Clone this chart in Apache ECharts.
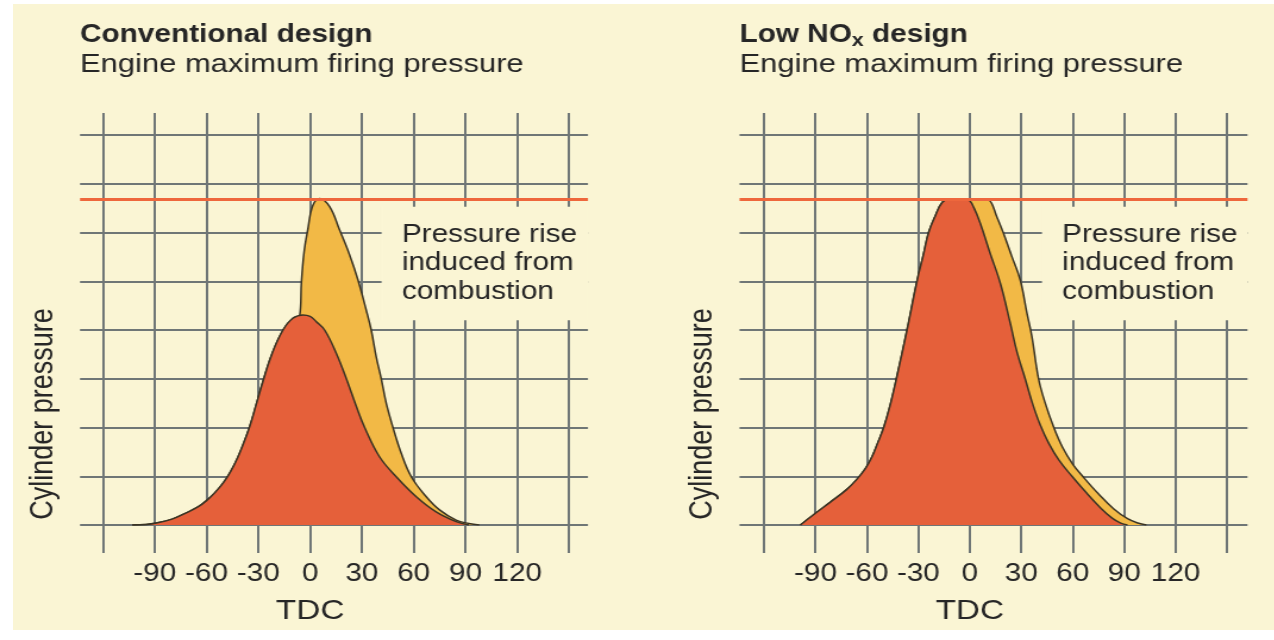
<!DOCTYPE html>
<html>
<head>
<meta charset="utf-8">
<title>Conventional vs Low NOx design</title>
<script src="https://cdn.jsdelivr.net/npm/echarts@6/dist/echarts.min.js"></script>
<style>
	html, body {margin: 0; padding: 0; background: #ffffff; overflow: hidden;}
	#bg {position: absolute; left: 13px; top: 4px; width: 1261px; height: 626px; background: #faf5d4;}
	/* the source picture is a bit wider than it is tall, so the chart is laid out narrow and stretched */
	#chart {position: absolute; left: 0; top: 0; width: 1071px; height: 640px; transform: scaleX(1.19); transform-origin: 0 0;}
</style>
</head>
<body>
<div id="bg"></div>
<div id="chart"></div>
<script>
//	crank angle ticks (deg) and pressure grid (arbitrary units, one unit per grid line)
var angleTicks = [-120, -90, -60, -30, 0, 30, 60, 90, 120, 150];
var pressureMax = 8;
var firingLimit = 6.68;

//	conventional design : motored (compression) curve
var convBaseDeg = [-103, -95, -89, -80, -71.7, -65, -60, -55, -50, -46, -42, -38.5, -35, -31, -27.3, -22, -15.7, -10, -4.2, 0, 3.6, 8.4, 15.2, 21, 26.8, 31.6, 40.2, 49.9, 61.5, 73, 84.6, 92];
var convBaseP   = [0, 0.01, 0.04, 0.12, 0.25, 0.37, 0.5, 0.67, 0.88, 1.1, 1.38, 1.68, 2.02, 2.5, 2.95, 3.52, 4.0, 4.24, 4.31, 4.28, 4.17, 4.0, 3.52, 3.0, 2.43, 2.0, 1.4, 0.99, 0.58, 0.27, 0.07, 0];
//	conventional design : fired curve
var convFiredDeg = [-103, -95, -89, -80, -71.7, -65, -60, -55, -50, -46, -42, -38.5, -35, -31, -27.3, -22, -15.7, -10, -6, -5, -3.5, -1.4, 1.5, 5.5, 11.3, 17.1, 22.9, 27.7, 32.5, 35.4, 38.3, 41.2, 44.1, 48, 52.8, 58.6, 67.3, 75, 84.6, 92, 98];
var convFiredP   = [0, 0.01, 0.04, 0.12, 0.25, 0.37, 0.5, 0.67, 0.88, 1.1, 1.38, 1.68, 2.02, 2.5, 2.95, 3.52, 4.0, 4.24, 4.3, 5.0, 5.6, 6.05, 6.55, 6.7, 6.53, 6.05, 5.54, 5.03, 4.41, 4.0, 3.45, 3.0, 2.5, 2.0, 1.47, 0.99, 0.58, 0.31, 0.1, 0.03, 0];

//	low NOx design : early injection curve
var lowBaseDeg = [-98.8, -90, -81.3, -72, -66, -61, -57, -53.5, -50.2, -46.5, -42.8, -36.6, -30.8, -27, -24, -20, -16, -12, -3, -0.7, 2.5, 6.1, 11.9, 17.8, 23.6, 27.5, 32.3, 36.5, 41.1, 46, 52, 59.6, 68, 76, 83, 88, 92];
var lowBaseP   = [0, 0.24, 0.47, 0.72, 0.93, 1.15, 1.4, 1.7, 2.0, 2.45, 3.0, 4.0, 5.0, 5.55, 6.0, 6.35, 6.62, 6.68, 6.68, 6.67, 6.5, 6.19, 5.57, 4.96, 4.14, 3.55, 3.0, 2.5, 2.05, 1.68, 1.33, 1.0, 0.66, 0.36, 0.14, 0.04, 0];
//	low NOx design : fired curve
var lowFiredDeg = [-98.8, -90, -81.3, -72, -66, -61, -57, -53.5, -50.2, -46.5, -42.8, -36.6, -30.8, -27, -24, -20, -16, -12, -3, -0.7, 8, 11, 15.8, 19.7, 24.6, 29.4, 33.3, 36.2, 40.1, 44, 48.8, 54, 60, 66.3, 75, 84, 92, 98, 103];
var lowFiredP   = [0, 0.24, 0.47, 0.72, 0.93, 1.15, 1.4, 1.7, 2.0, 2.45, 3.0, 4.0, 5.0, 5.55, 6.0, 6.35, 6.62, 6.68, 6.68, 6.67, 6.68, 6.67, 6.32, 5.98, 5.5, 5.03, 4.35, 3.87, 3.0, 2.5, 2.02, 1.6, 1.25, 0.98, 0.64, 0.33, 0.13, 0.04, 0];

var noteText = 'Pressure rise\ninduced from\ncombustion';


var SX = 1.19;
var FONT = '"Liberation Sans", Arial, Helvetica, sans-serif';
var INK = '#262626',
	GRIDLINE = '#6f7676',
	CREAM = '#faf5d4',
	RED = '#e5603a',
	YELLOW = '#f2b946',
	LIMIT = '#ee673c',
	OUTLINE = '#3a3424';

//	panel geometry in picture pixels (x gets divided by SX)
var panels = [
	{aLeft: 103, aRight: 569, bLeft: 80, bRight: 588, titleLeft: 80, noteFrom: 41.4,
		title: 'Conventional design', base: [convBaseDeg, convBaseP], fired: [convFiredDeg, convFiredP]},
	{aLeft: 764, aRight: 1227, bLeft: 739.5, bRight: 1247.5, titleLeft: 739.5, noteFrom: 42.1,
		title: 'Low NO{sub|x} design', base: [lowBaseDeg, lowBaseP], fired: [lowFiredDeg, lowFiredP]}
];

var aTop = 113, aBottom = 553, bTop = 135, bBottom = 525;

drawChart();




/*==========================*\
|=====  Helper functions  ===|
\*==========================*/

function ux(x) {
	return x / SX;
}

function zip(xs, ys) {
	var out = [];
	for(var i=0; i<xs.length; i++) {
		out.push([xs[i], ys[i]]);
	}
	return out;
}

function drawChart() {
	var myChart = echarts.init(document.getElementById('chart'));
	var grid = [], xAxis = [], yAxis = [], series = [], title = [];

	for(var k=0; k<panels.length; k++) {
		var p = panels[k];
		var aW = ux(p.aRight - p.aLeft);
		var perDeg = aW / (angleTicks[angleTicks.length-1] - angleTicks[0]);
		var bMin = angleTicks[0] - ux(p.aLeft - p.bLeft) / perDeg;
		var bMax = angleTicks[angleTicks.length-1] + ux(p.bRight - p.aRight) / perDeg;
		var ga = k*2, gb = k*2 + 1;

		title.push({
			text: p.title,
			subtext: 'Engine maximum firing pressure',
			left: ux(p.titleLeft),
			top: 20,
			itemGap: 0,
			padding: 0,
			textStyle: {
				fontFamily: FONT, fontSize: 25, fontWeight: 'bold', color: INK, lineHeight: 30,
				rich: {
					sub: {fontFamily: FONT, fontSize: 18, fontWeight: 'bold', color: INK, lineHeight: 12, verticalAlign: 'bottom'}
				}
			},
			subtextStyle: {fontFamily: FONT, fontSize: 26, color: INK, lineHeight: 30}
		});

		//	grid a : vertical lines + angle labels
		grid.push({left: ux(p.aLeft), width: aW, top: aTop, height: aBottom - aTop, outerBoundsMode: 'none'});
		//	grid b : horizontal lines + curves
		grid.push({left: ux(p.bLeft), width: ux(p.bRight - p.bLeft), top: bTop, height: bBottom - bTop, outerBoundsMode: 'none'});

		xAxis.push({
			type: 'value',
			gridIndex: ga,
			min: angleTicks[0],
			max: angleTicks[angleTicks.length-1],
			interval: 30,
			axisLine: {show: false},
			axisTick: {show: false},
			splitLine: {show: true, lineStyle: {color: GRIDLINE, width: 2}},
			axisLabel: {
				fontFamily: FONT, fontSize: 25, color: INK, margin: 9,
				formatter: function(v) {
					return (v == angleTicks[0] || v == angleTicks[angleTicks.length-1]) ? '' : String(v);
				}
			},
			name: 'TDC',
			nameLocation: 'middle',
			nameGap: 44,
			//	push the name from the axis middle (15 deg) back to 0 deg
			nameTextStyle: {fontFamily: FONT, fontSize: 28, color: INK, padding: [0, 2*15*perDeg, 0, 0]}
		});
		xAxis.push({type: 'value', gridIndex: gb, min: bMin, max: bMax, show: false, splitLine: {show: false}});

		yAxis.push({type: 'value', gridIndex: ga, min: 0, max: 1, show: false, splitLine: {show: false}});
		yAxis.push({
			type: 'value',
			gridIndex: gb,
			min: 0,
			max: pressureMax,
			interval: 1,
			axisLine: {show: false},
			axisTick: {show: false},
			axisLabel: {show: false},
			splitLine: {show: true, lineStyle: {color: GRIDLINE, width: 2}},
			name: 'Cylinder pressure',
			nameLocation: 'middle',
			nameGap: 17,
			nameTextStyle: {fontFamily: FONT, fontSize: 27, color: INK, padding: [0, 168, 0, 0]}
		});

		series.push({
			type: 'line',
			xAxisIndex: gb, yAxisIndex: gb,
			data: zip(p.fired[0], p.fired[1]),
			smooth: 0.4,
			showSymbol: false,
			silent: true,
			z: 2,
			lineStyle: {color: OUTLINE, width: 1.5},
			areaStyle: {color: YELLOW, opacity: 1}
		});
		series.push({
			type: 'line',
			xAxisIndex: gb, yAxisIndex: gb,
			data: zip(p.base[0], p.base[1]),
			smooth: 0.4,
			showSymbol: false,
			silent: true,
			z: 3,
			lineStyle: {color: OUTLINE, width: 1.5},
			areaStyle: {color: RED, opacity: 1}
		});
		//	firing pressure limit + the note box that blanks the grid behind the text
		series.push({
			type: 'line',
			xAxisIndex: gb, yAxisIndex: gb,
			data: [],
			silent: true,
			z: 5,
			markLine: {
				silent: true,
				symbol: 'none',
				label: {show: false},
				lineStyle: {color: LIMIT, width: 3, type: 'solid'},
				data: [{yAxis: firingLimit}]
			},
			markArea: {
				silent: true,
				itemStyle: {color: CREAM, borderWidth: 0},
				label: {
					show: true,
					position: 'insideTopLeft',
					distance: 0,
					padding: [14, 0, 0, 17],
					fontFamily: FONT, fontSize: 25, lineHeight: 28.5, color: INK,
					formatter: noteText
				},
				data: [[{xAxis: p.noteFrom, yAxis: 4.2}, {xAxis: bMax, yAxis: 6.53}]]
			}
		});
	}

	var option = {
		animation: false,
		backgroundColor: 'transparent',
		title: title,
		grid: grid,
		xAxis: xAxis,
		yAxis: yAxis,
		series: series
	};

	myChart.setOption(option);
}
</script>
</body>
</html>
